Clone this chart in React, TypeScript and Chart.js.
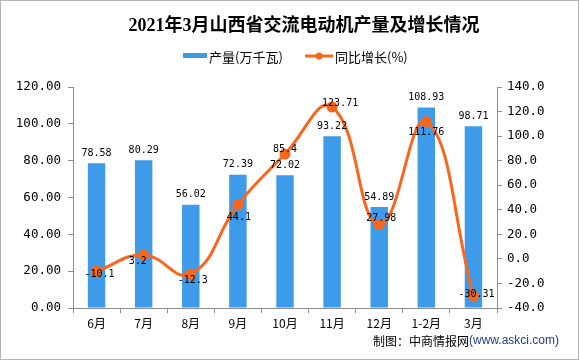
import React, { useEffect, useRef } from "react";
import { Chart, registerables } from "chart.js";

Chart.register(...registerables);

const categories = ["6月", "7月", "8月", "9月", "10月", "11月", "12月", "1-2月", "3月"];
const production = [78.58, 80.29, 56.02, 72.39, 72.02, 93.22, 54.89, 108.93, 98.71];
const growth = [-10.1, 3.2, -12.3, 44.1, 85.4, 123.71, 27.98, 111.76, -30.31];

const titleText = "2021年3月山西省交流电动机产量及增长情况";
const barLabel = "产量(万千瓦)";
const lineLabel = "同比增长(%)";
const sourceMain = "制图：中商情报网";
const sourceUrl = "(www.askci.com)";

const BAR_COLOR = "#3d9be9";
const LINE_COLOR = "#f8671d";
const AXIS_COLOR = "#8c8c8c";
const MONO = "'DejaVu Sans Mono', 'Liberation Mono', monospace";
const CJK = "'Noto Sans CJK SC', 'Noto Sans', sans-serif";

// label placement offsets (px) for growth labels relative to their points
const lineLabelDy = [3, 6, 6, 13, -5, -4, -6, 11, -2];
const lineLabelDx = [3, -6, 2, 1, 0, 8, 2, 0, 3];

const decorPlugin = {
  id: "decor",
  afterDatasetsDraw(chart: any) {
    const ctx = chart.ctx;
    ctx.save();
    ctx.font = `10px ${MONO}`;
    ctx.fillStyle = "#000";
    ctx.textAlign = "center";
    ctx.textBaseline = "middle";
    const barMeta = chart.getDatasetMeta(0);
    barMeta.data.forEach((el: any, i: number) => {
      ctx.fillText(String(production[i]), el.x, el.y - 10);
    });
    const lineMeta = chart.getDatasetMeta(1);
    lineMeta.data.forEach((el: any, i: number) => {
      ctx.fillText(String(growth[i]), el.x + lineLabelDx[i], el.y + lineLabelDy[i]);
    });
    ctx.restore();
  },
  afterDraw(chart: any) {
    const ctx = chart.ctx;
    const W = chart.width;
    const H = chart.height;
    ctx.save();
    // frame
    ctx.strokeStyle = "#b4b4b4";
    ctx.lineWidth = 1;
    ctx.strokeRect(0.5, 0.5, W - 1, H - 1);
    // title
    ctx.fillStyle = "#000";
    ctx.font = `bold 18px 'Liberation Serif', ${CJK}`;
    ctx.textAlign = "center";
    ctx.textBaseline = "middle";
    ctx.fillText(titleText, 304, 26);
    // legend
    ctx.textAlign = "left";
    ctx.font = `13px ${CJK}`;
    ctx.fillStyle = BAR_COLOR;
    ctx.fillRect(183, 53, 24, 5);
    ctx.fillStyle = "#000";
    ctx.fillText(barLabel, 209, 57);
    ctx.strokeStyle = LINE_COLOR;
    ctx.lineWidth = 3;
    ctx.beginPath();
    ctx.moveTo(305, 56);
    ctx.lineTo(333, 56);
    ctx.stroke();
    ctx.fillStyle = LINE_COLOR;
    ctx.beginPath();
    ctx.arc(319, 56, 3.5, 0, Math.PI * 2);
    ctx.fill();
    ctx.fillStyle = "#000";
    ctx.fillText(lineLabel, 335, 57);
    // source
    ctx.font = `12px ${CJK}`;
    ctx.fillStyle = "#000";
    ctx.fillText(sourceMain, 373, 341);
    const w = ctx.measureText(sourceMain).width;
    ctx.font = `12px 'Liberation Sans', 'DejaVu Sans', sans-serif`;
    ctx.fillStyle = "#1f3c88";
    ctx.fillText(sourceUrl, 373 + w, 341);
    ctx.restore();
  },
};

export default function App() {
  const ref = useRef<HTMLCanvasElement | null>(null);
  useEffect(() => {
    document.body.style.margin = "0";
    const canvas = ref.current;
    if (!canvas) return;
    const chart = new Chart(canvas, {
      type: "bar",
      data: {
        labels: categories,
        datasets: [
          {
            type: "bar",
            label: barLabel,
            data: production,
            backgroundColor: BAR_COLOR,
            yAxisID: "y",
            barPercentage: 0.37,
            categoryPercentage: 1,
            order: 2,
          },
          {
            type: "line",
            label: lineLabel,
            data: growth,
            borderColor: LINE_COLOR,
            backgroundColor: LINE_COLOR,
            pointBackgroundColor: LINE_COLOR,
            pointBorderColor: LINE_COLOR,
            pointRadius: 4,
            borderWidth: 3,
            tension: 0.45,
            yAxisID: "y1",
            order: 1,
          } as any,
        ],
      },
      options: {
        responsive: false,
        animation: false,
        layout: { padding: { top: 87, left: 0, right: 0, bottom: 0 } },
        plugins: {
          legend: { display: false },
          title: { display: false },
          tooltip: { enabled: false },
        },
        scales: {
          x: {
            offset: true,
            grid: {
              display: true,
              offset: true,
              drawOnChartArea: false,
              drawTicks: true,
              tickLength: 5,
              color: AXIS_COLOR,
            },
            border: { display: true, color: AXIS_COLOR },
            ticks: {
              color: "#000",
              font: { family: CJK, size: 12 },
              padding: 3,
              maxRotation: 0,
              autoSkip: false,
            },
            afterFit(scale: any) {
              scale.height = 52;
            },
          },
          y: {
            position: "left",
            min: 0,
            max: 120,
            grid: {
              display: true,
              drawOnChartArea: false,
              drawTicks: true,
              tickLength: 5,
              color: AXIS_COLOR,
            },
            border: { display: true, color: AXIS_COLOR },
            ticks: {
              stepSize: 20,
              color: "#000",
              font: { family: MONO, size: 12.5 },
              padding: 7,
              callback: (v: any) => Number(v).toFixed(2),
            },
            afterFit(scale: any) {
              scale.width = 73;
            },
          },
          y1: {
            position: "right",
            min: -40,
            max: 140,
            grid: {
              display: true,
              drawOnChartArea: false,
              drawTicks: true,
              tickLength: 5,
              color: AXIS_COLOR,
            },
            border: { display: true, color: AXIS_COLOR },
            ticks: {
              stepSize: 20,
              color: "#000",
              font: { family: MONO, size: 12.5 },
              padding: 5,
              callback: (v: any) => Number(v).toFixed(1),
            },
            afterFit(scale: any) {
              scale.width = 82;
            },
          },
        },
      },
      plugins: [decorPlugin],
    });
    return () => chart.destroy();
  }, []);
  return (
    <div style={{ width: 579, height: 360, background: "#fff" }}>
      <canvas ref={ref} width={579} height={360} style={{ display: "block" }} />
    </div>
  );
}
